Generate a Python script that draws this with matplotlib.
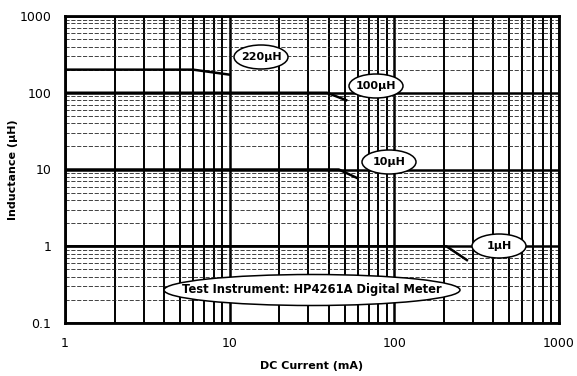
import numpy as np
import matplotlib
matplotlib.use("Agg")
import matplotlib.pyplot as plt
from matplotlib.patches import Ellipse
from matplotlib.ticker import LogLocator, FixedLocator, NullFormatter

# Data
l220_x = [1, 6, 10]
l220_y = [200, 200, 172]
l100_x = [1, 39, 51]
l100_y = [100, 100, 80]
l10_x = [1, 46, 59]
l10_y = [10, 10, 7.8]
l1_x = [1, 207, 276]
l1_y = [1, 1, 0.66]

labels = ["220µH", "100µH", "10µH", "1µH"]
note = "Test Instrument: HP4261A Digital Meter"

x_ticks = [1, 10, 100, 1000]
x_ticklabels = ["1", "10", "100", "1000"]
y_ticks = [0.1, 1, 10, 100, 1000]
y_ticklabels = ["0.1", "1", "10", "100", "1000"]

W, H = 577, 376
AX0, AX1, AY0, AY1 = 65, 559, 16, 323  # pixel box of axes

plt.rcParams['font.family'] = ['DejaVu Sans']
fig = plt.figure(figsize=(W/100, H/100), dpi=100)
ax = fig.add_axes([AX0/W, 1-AY1/H, (AX1-AX0)/W, (AY1-AY0)/H])
ax.set_xscale('log')
ax.set_yscale('log')
ax.set_xlim(1, 1000)
ax.set_ylim(0.1, 1000)

ax.xaxis.set_major_locator(FixedLocator(x_ticks))
ax.set_xticklabels(x_ticklabels, fontsize=9)
ax.yaxis.set_major_locator(FixedLocator(y_ticks))
ax.set_yticklabels(y_ticklabels, fontsize=9)
ax.xaxis.set_minor_locator(LogLocator(base=10, subs=np.arange(2, 10), numticks=20))
ax.yaxis.set_minor_locator(LogLocator(base=10, subs=np.arange(2, 10), numticks=20))
ax.xaxis.set_minor_formatter(NullFormatter())
ax.yaxis.set_minor_formatter(NullFormatter())
ax.tick_params(which='both', length=0)
ax.tick_params(axis='x', pad=10)
ax.tick_params(axis='y', pad=10)

ax.grid(True, which='major', axis='both', color='black', linewidth=1.8)
ax.grid(True, which='minor', axis='x', color='black', linewidth=1.4)
ax.grid(True, which='minor', axis='y', color='#222222', linewidth=0.6, linestyle=(0, (5, 2)))
for s in ax.spines.values():
    s.set_linewidth(2)

for xs, ys in [(l220_x, l220_y), (l100_x, l100_y), (l10_x, l10_y), (l1_x, l1_y)]:
    ax.plot(xs, ys, color='black', linewidth=1.8, zorder=3)

def frac(px, py):
    return (px-AX0)/(AX1-AX0), (AY1-py)/(AY1-AY0)

def oval_label(text, cx, cy, w, h, fs):
    fx, fy = frac(cx, cy)
    e = Ellipse((fx, fy), w/(AX1-AX0), h/(AY1-AY0), transform=ax.transAxes,
                fc='white', ec='black', lw=1.1, zorder=5)
    ax.add_patch(e)
    ax.text(fx, fy, text, transform=ax.transAxes, fontsize=fs, fontweight='bold',
            ha='center', va='center', zorder=6)

label_px = [(261, 57), (376, 86), (389, 162), (499, 246)]
for lab, (cx, cy) in zip(labels, label_px):
    oval_label(lab, cx, cy, 54, 24, 8)

oval_label(note, 312, 290, 296, 31, 8.3)

fig.text(312/W, 1-366/H, "DC Current (mA)", fontsize=8, fontweight='bold',
         ha='center', va='center')
fig.text(13/W, 1-170/H, "Inductance (µH)", fontsize=8, fontweight='bold',
         ha='center', va='center', rotation=90)

fig.savefig("out.png", dpi=100)
